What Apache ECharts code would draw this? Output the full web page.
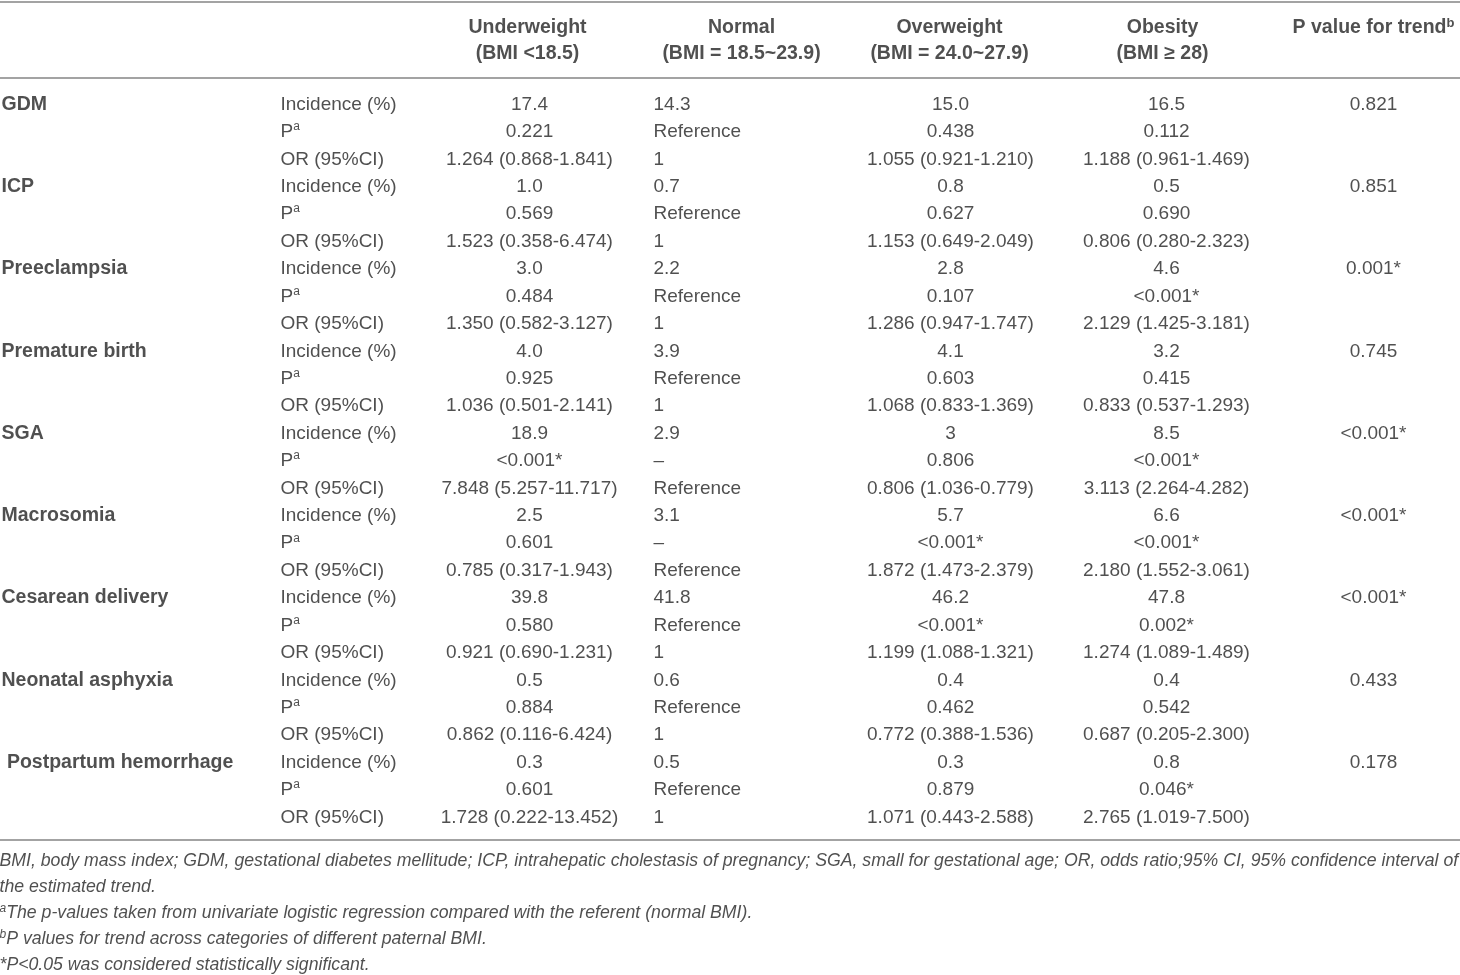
<!DOCTYPE html>
<html>
<head>
<meta charset="utf-8">
<title>Outcomes by BMI</title>
<script src="https://cdn.jsdelivr.net/npm/echarts@6/dist/echarts.min.js"></script>
<style>
  html, body { margin: 0; padding: 0; background: #fff; }
  #main { width: 1460px; height: 975px; }
</style>
</head>
<body>
<div id="main"></div>
<script>
// ---- table content ----
const outcomes = ['GDM', 'ICP', 'Preeclampsia', 'Premature birth', 'SGA', 'Macrosomia',
  'Cesarean delivery', 'Neonatal asphyxia', ' Postpartum hemorrhage'];
const measures = ['Incidence (%)', 'P^a', 'OR (95%CI)'];
const groupTitles = ['Underweight', 'Normal', 'Overweight', 'Obesity', 'P value for trend^b'];
const groupRanges = ['(BMI <18.5)', '(BMI = 18.5~23.9)', '(BMI = 24.0~27.9)', '(BMI \u2265 28)', ''];

const underweight = [
  '17.4', '0.221', '1.264 (0.868-1.841)',
  '1.0', '0.569', '1.523 (0.358-6.474)',
  '3.0', '0.484', '1.350 (0.582-3.127)',
  '4.0', '0.925', '1.036 (0.501-2.141)',
  '18.9', '<0.001*', '7.848 (5.257-11.717)',
  '2.5', '0.601', '0.785 (0.317-1.943)',
  '39.8', '0.580', '0.921 (0.690-1.231)',
  '0.5', '0.884', '0.862 (0.116-6.424)',
  '0.3', '0.601', '1.728 (0.222-13.452)'
];
const normal = [
  '14.3', 'Reference', '1',
  '0.7', 'Reference', '1',
  '2.2', 'Reference', '1',
  '3.9', 'Reference', '1',
  '2.9', '\u2013', 'Reference',
  '3.1', '\u2013', 'Reference',
  '41.8', 'Reference', '1',
  '0.6', 'Reference', '1',
  '0.5', 'Reference', '1'
];
const overweight = [
  '15.0', '0.438', '1.055 (0.921-1.210)',
  '0.8', '0.627', '1.153 (0.649-2.049)',
  '2.8', '0.107', '1.286 (0.947-1.747)',
  '4.1', '0.603', '1.068 (0.833-1.369)',
  '3', '0.806', '0.806 (1.036-0.779)',
  '5.7', '<0.001*', '1.872 (1.473-2.379)',
  '46.2', '<0.001*', '1.199 (1.088-1.321)',
  '0.4', '0.462', '0.772 (0.388-1.536)',
  '0.3', '0.879', '1.071 (0.443-2.588)'
];
const obesity = [
  '16.5', '0.112', '1.188 (0.961-1.469)',
  '0.5', '0.690', '0.806 (0.280-2.323)',
  '4.6', '<0.001*', '2.129 (1.425-3.181)',
  '3.2', '0.415', '0.833 (0.537-1.293)',
  '8.5', '<0.001*', '3.113 (2.264-4.282)',
  '6.6', '<0.001*', '2.180 (1.552-3.061)',
  '47.8', '0.002*', '1.274 (1.089-1.489)',
  '0.4', '0.542', '0.687 (0.205-2.300)',
  '0.8', '0.046*', '2.765 (1.019-7.500)'
];
const pTrend = ['0.821', '0.851', '0.001*', '0.745', '<0.001*', '<0.001*', '<0.001*', '0.433', '0.178'];

const footnotes = [
  'BMI, body mass index; GDM, gestational diabetes mellitude; ICP, intrahepatic cholestasis of pregnancy; SGA, small for gestational age; OR, odds ratio;95% CI, 95% confidence interval of',
  'the estimated trend.',
  '^aThe p-values taken from univariate logistic regression compared with the referent (normal BMI).',
  '^bP values for trend across categories of different paternal BMI.',
  '*P<0.05 was considered statistically significant.'
];

// ---- layout (pixel coordinates on a 1460 x 975 value grid) ----
const W = 1460, H = 975;
const FONT = '"Liberation Sans", Arial, Helvetica, sans-serif';
const INK = '#242424';
const RULE = '#a3a3a3';
const headY = [28, 54];
const rowTop = 105, rowStep = 27.42;
const noteTop = 862, noteStep = 26;
const rules = [1.5, 78, 840];
// x anchor + alignment for every column
const cols = {
  outcome: { x: 2, align: 'left' },
  measure: { x: 281, align: 'left' },
  under: { x: 530, align: 'center' },
  normal: { x: 654, align: 'left' },
  over: { x: 951, align: 'center' },
  obese: { x: 1167, align: 'center' },
  trend: { x: 1374, align: 'center' }
};
const headX = [528, 742, 950, 1163, 1374];

const sup = (s) => s.replace(/\^(\w)/g, '{sup|$1}');
const cell = (x, y, text, align) => ({ name: sup(text), value: [x, y], label: { align: align } });
const rowY = (i) => rowTop + i * rowStep;

// header cells (bold)
const boldCells = [];
groupTitles.forEach((t, i) => {
  boldCells.push(cell(headX[i], headY[0], t, 'center'));
  if (groupRanges[i]) boldCells.push(cell(headX[i], headY[1], groupRanges[i], 'center'));
});
outcomes.forEach((o, i) => boldCells.push(cell(cols.outcome.x, rowY(i * 3), o, 'left')));

// body cells
const bodyCells = [];
const valueCols = [[underweight, cols.under], [normal, cols.normal], [overweight, cols.over], [obesity, cols.obese]];
outcomes.forEach((o, i) => {
  measures.forEach((m, j) => {
    const r = i * 3 + j;
    bodyCells.push(cell(cols.measure.x, rowY(r), m, 'left'));
    valueCols.forEach(([arr, c]) => bodyCells.push(cell(c.x, rowY(r), arr[r], c.align)));
  });
  bodyCells.push(cell(cols.trend.x, rowY(i * 3), pTrend[i], cols.trend.align));
});

// footnotes (italic)
const noteCells = footnotes.map((t, i) => cell(0, noteTop + i * noteStep, t, 'left'));

function textSeries(name, data, fontSize, weight, style, supSize) {
  return {
    name: name,
    type: 'scatter',
    silent: true,
    symbol: 'rect',
    symbolSize: 1,
    itemStyle: { color: 'rgba(0,0,0,0)' },
    data: data,
    label: {
      show: true,
      position: [0, 0],
      verticalAlign: 'middle',
      formatter: '{b}',
      color: INK,
      fontFamily: FONT,
      fontSize: fontSize,
      fontWeight: weight,
      fontStyle: style,
      lineHeight: 22,
      rich: {
        sup: {
          fontSize: supSize,
          lineHeight: supSize,
          verticalAlign: 'top',
          color: INK,
          fontFamily: FONT,
          fontWeight: weight,
          fontStyle: style
        }
      }
    }
  };
}

const chart = echarts.init(document.getElementById('main'));
const bodySeries = textSeries('body', bodyCells, 19, 'normal', 'normal', 12);
bodySeries.markLine = {
  silent: true,
  symbol: 'none',
  label: { show: false },
  lineStyle: { color: RULE, width: 2, type: 'solid' },
  data: rules.map((y) => ({ yAxis: y }))
};

chart.setOption({
  animation: false,
  grid: { left: 0, right: 0, top: 0, bottom: 0 },
  xAxis: { type: 'value', min: 0, max: W, show: false },
  yAxis: { type: 'value', min: 0, max: H, inverse: true, show: false },
  series: [
    bodySeries,
    textSeries('bold', boldCells, 19.5, 'bold', 'normal', 13),
    textSeries('notes', noteCells, 17.7, 'normal', 'italic', 12)
  ]
});
</script>
</body>
</html>
